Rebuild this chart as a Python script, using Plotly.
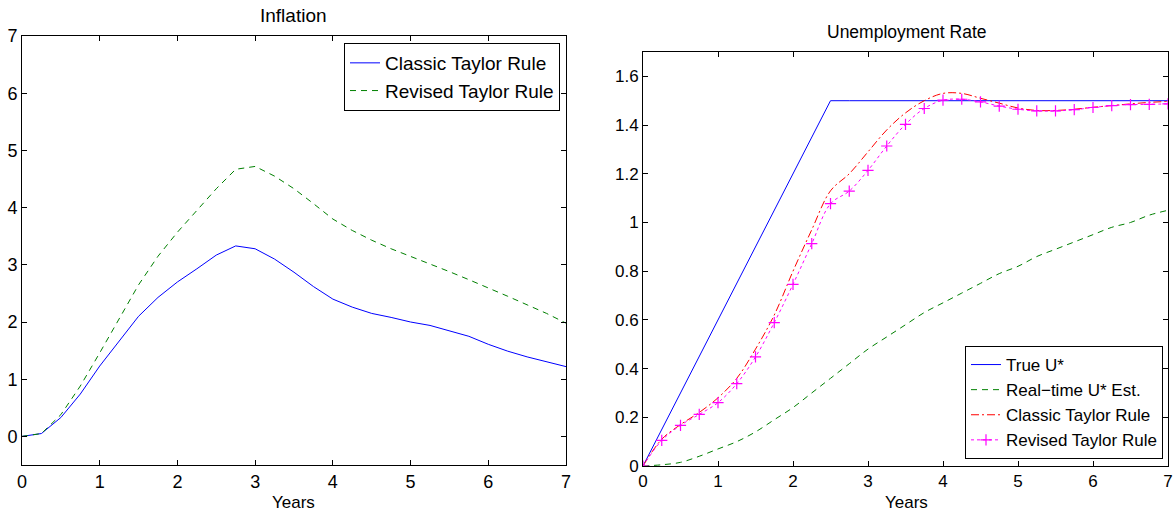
import plotly.graph_objects as go

# ---- data ----
years = [i * 0.25 for i in range(29)]

infl_classic = [0.0, 0.05, 0.33, 0.74, 1.23, 1.67, 2.10, 2.43, 2.70, 2.93, 3.17, 3.33, 3.28,
                3.10, 2.87, 2.62, 2.40, 2.26, 2.15, 2.08, 2.00, 1.94, 1.85, 1.75, 1.61,
                1.49, 1.39, 1.30, 1.22]
infl_revised = [0.0, 0.05, 0.38, 0.88, 1.46, 2.05, 2.65, 3.15, 3.57, 3.95, 4.33, 4.67, 4.72,
                4.55, 4.33, 4.07, 3.80, 3.60, 3.43, 3.28, 3.15, 3.02, 2.88, 2.74, 2.60,
                2.45, 2.30, 2.15, 1.98]

true_u = [0.0, 0.15, 0.30, 0.45, 0.60, 0.75, 0.90, 1.05, 1.20, 1.35, 1.50, 1.50, 1.50,
          1.50, 1.50, 1.50, 1.50, 1.50, 1.50, 1.50, 1.50, 1.50, 1.50, 1.50, 1.50,
          1.50, 1.50, 1.50, 1.50]
realtime_u = [0.0, 0.005, 0.015, 0.04, 0.07, 0.10, 0.14, 0.19, 0.24, 0.30, 0.36, 0.42, 0.48,
              0.53, 0.58, 0.63, 0.67, 0.71, 0.75, 0.79, 0.82, 0.86, 0.89, 0.92, 0.95,
              0.98, 1.00, 1.03, 1.05]
unemp_classic = [0.0, 0.11, 0.17, 0.22, 0.28, 0.36, 0.48, 0.62, 0.80, 0.97, 1.13, 1.20, 1.29,
                 1.38, 1.45, 1.50, 1.53, 1.53, 1.51, 1.49, 1.47, 1.46, 1.46, 1.465, 1.473,
                 1.48, 1.487, 1.493, 1.497]
unemp_revised = [0.0, 0.105, 0.167, 0.212, 0.26, 0.338, 0.448, 0.589, 0.746, 0.913, 1.077, 1.129, 1.214,
                 1.314, 1.403, 1.468, 1.502, 1.506, 1.495, 1.478, 1.465, 1.458, 1.458, 1.463, 1.472,
                 1.48, 1.484, 1.485, 1.487]

x_ticks = [0, 1, 2, 3, 4, 5, 6, 7]
infl_yticks = [0, 1, 2, 3, 4, 5, 6, 7]
unemp_yticks = [0, 0.2, 0.4, 0.6, 0.8, 1.0, 1.2, 1.4, 1.6]
unemp_yticktext = ["0", "0.2", "0.4", "0.6", "0.8", "1", "1.2", "1.4", "1.6"]

W, H = 1175, 514
FONT = "Liberation Sans, Arial, sans-serif"

def px_x(p):
    return p / W

def px_y(p):
    return 1 - p / H

fig = go.Figure()

fig.add_trace(go.Scatter(x=years, y=infl_classic, mode="lines", name="Classic Taylor Rule",
                         line=dict(color="#0000FF", width=1), xaxis="x", yaxis="y", legend="legend"))
fig.add_trace(go.Scatter(x=years, y=infl_revised, mode="lines", name="Revised Taylor Rule",
                         line=dict(color="#008000", width=1, dash="6px,5px"), xaxis="x", yaxis="y",
                         legend="legend"))

fig.add_trace(go.Scatter(x=years, y=true_u, mode="lines", name="True U*",
                         line=dict(color="#0000FF", width=1), xaxis="x2", yaxis="y2", legend="legend2"))
fig.add_trace(go.Scatter(x=years, y=realtime_u, mode="lines", name="Real\u2212time U* Est.",
                         line=dict(color="#008000", width=1, dash="6px,5px", shape="spline"),
                         xaxis="x2", yaxis="y2", legend="legend2"))
fig.add_trace(go.Scatter(x=years, y=unemp_classic, mode="lines", name="Classic Taylor Rule",
                         line=dict(color="#FF0000", width=1, dash="8px,3px,2px,3px", shape="spline"),
                         xaxis="x2", yaxis="y2", legend="legend2"))
fig.add_trace(go.Scatter(x=years, y=unemp_revised, mode="lines+markers", name="Revised Taylor Rule",
                         line=dict(color="#FF00FF", width=1, dash="dot", shape="spline"),
                         marker=dict(symbol="cross-thin", size=8, color="#FF00FF",
                                     line=dict(color="#FF00FF", width=1.2)),
                         xaxis="x2", yaxis="y2", legend="legend2"))

def axis_common(fs):
    return dict(showline=True, linecolor="black", linewidth=1, mirror="ticks",
                ticks="inside", ticklen=5, tickcolor="black", showgrid=False, zeroline=False,
                automargin=False,
                tickfont=dict(family=FONT, size=fs, color="black"))

def label(text, cx, cy, size):
    return dict(text=text, x=px_x(cx), y=px_y(cy), xref="paper", yref="paper",
                xanchor="center", yanchor="middle", showarrow=False,
                font=dict(family=FONT, size=size, color="black"))

fig.update_layout(
    width=W, height=H,
    margin=dict(l=0, r=0, t=0, b=0, autoexpand=False),
    paper_bgcolor="white", plot_bgcolor="white",
    font=dict(family=FONT, color="black"),
    xaxis=dict(domain=[px_x(22), px_x(566)], range=[0, 7], tickvals=x_ticks, anchor="y",
               **axis_common(18)),
    yaxis=dict(domain=[px_y(465), px_y(36)], range=[-0.5, 7], tickvals=infl_yticks, anchor="x",
               **axis_common(18)),
    xaxis2=dict(domain=[px_x(643), px_x(1168)], range=[0, 7], tickvals=x_ticks, anchor="y2",
                **axis_common(17)),
    yaxis2=dict(domain=[px_y(466), px_y(52)], range=[0, 1.7], tickvals=unemp_yticks,
                ticktext=unemp_yticktext, anchor="x2", **axis_common(17)),
    legend=dict(x=px_x(560), y=px_y(43), xanchor="right", yanchor="top",
                bordercolor="black", borderwidth=1, bgcolor="white",
                font=dict(family=FONT, size=19, color="black"), tracegroupgap=0),
    legend2=dict(x=px_x(1163), y=px_y(459), xanchor="right", yanchor="bottom",
                 bordercolor="black", borderwidth=1, bgcolor="white",
                 font=dict(family=FONT, size=17, color="black"), tracegroupgap=0),
    showlegend=True,
    annotations=[
        label("Inflation", 293, 15, 19),
        label("Unemployment Rate", 907, 32, 17.5),
        label("Years", 293, 502, 17),
        label("Years", 906, 502, 17),
    ],
)

fig.write_html("out.html",
               config={"displayModeBar": False},
               post_script="document.body.style.margin='0';document.body.style.overflow='hidden';")
